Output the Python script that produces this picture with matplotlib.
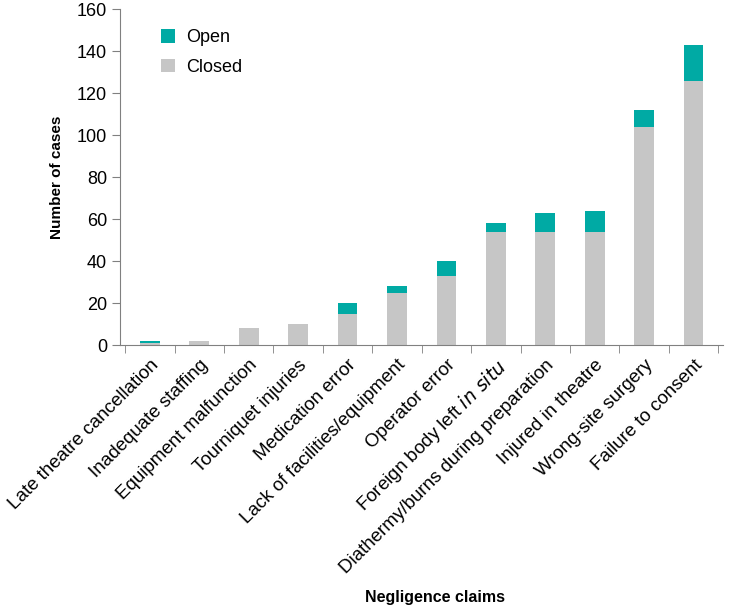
import matplotlib.pyplot as plt
import numpy as np

plt.rcParams['font.family'] = ['Liberation Sans', 'DejaVu Sans']

categories = ['Late theatre cancellation', 'Inadequate staffing', 'Equipment malfunction',
              'Tourniquet injuries', 'Medication error', 'Lack of facilities/equipment',
              'Operator error', 'Foreign body left $\\it{in\\ situ}$', 'Diathermy/burns during preparation',
              'Injured in theatre', 'Wrong-site surgery', 'Failure to consent']
closed = [1, 2, 8, 10, 15, 25, 33, 54, 54, 54, 104, 126]
open_ = [1, 0, 0, 0, 5, 3, 7, 4, 9, 10, 8, 17]

teal = '#00aaa4'
grey = '#c6c6c6'
axis_col = '#808080'

fig = plt.figure(figsize=(7.47, 6.10), dpi=100)
ax = fig.add_axes([0.161, 0.434, 0.807, 0.551])

x = np.arange(len(categories))
ax.bar(x, closed, width=0.4, color=grey, label='Closed')
ax.bar(x, open_, width=0.4, bottom=closed, color=teal, label='Open')

ax.set_xlim(-0.6, len(categories) - 0.4)
ax.set_ylim(0, 160)
ax.set_yticks(range(0, 161, 20))
ax.set_xticks(x)
ax.set_xticklabels(categories, rotation=45, ha='right', rotation_mode='anchor', fontsize=13.5)
ax.set_xticks(np.arange(-0.5, len(categories), 1), minor=True)
ax.tick_params(axis='x', which='major', length=0, pad=8)
ax.tick_params(axis='x', which='minor', length=6, color=axis_col)
ax.tick_params(axis='y', labelsize=13, length=6, color=axis_col)

for s in ['top', 'right']:
    ax.spines[s].set_visible(False)
for s in ['left', 'bottom']:
    ax.spines[s].set_color(axis_col)

ax.set_ylabel('Number of cases', fontsize=11, fontweight='bold', labelpad=9)
fig.text(0.582, 0.02, 'Negligence claims', fontsize=11.5, fontweight='bold', ha='center', va='center')

h, l = ax.get_legend_handles_labels()
ax.legend(h[::-1], l[::-1], loc='upper left', bbox_to_anchor=(0.04, 0.99), frameon=False,
          fontsize=13, handlelength=0.8, handleheight=0.8, labelspacing=0.7, handletextpad=0.6)

fig.savefig('out.png', dpi=100)
